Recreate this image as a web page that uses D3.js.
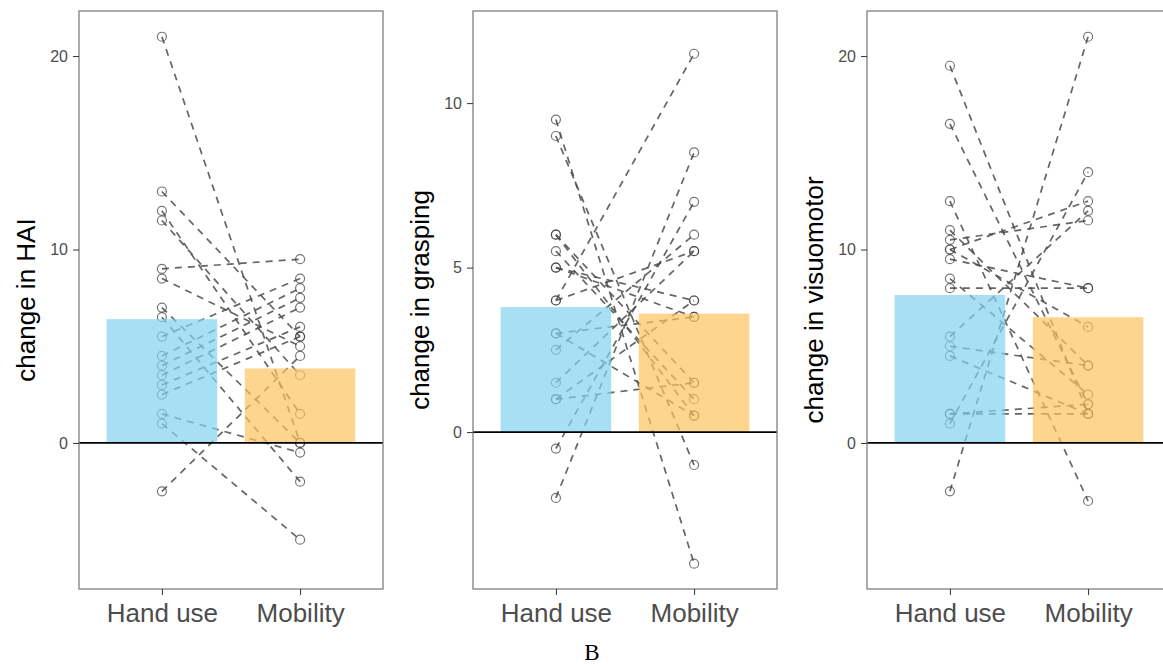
<!DOCTYPE html>
<html>
<head>
<meta charset="utf-8">
<script src="https://cdn.jsdelivr.net/npm/d3@7"></script>
<style>
  body { margin: 0; background: #fff; }
  svg { display: block; }
</style>
</head>
<body>
<script>
const width = 1163
const height = 664

// categories on the x axis
const categories = ['Hand use', 'Mobility']

// paired change scores, one entry per child (hand use -> mobility)
const haiHand = [21, 13, 12, 11.5, 9, 8.5, 7, 6.5, 5.5, 4.5, 4, 3.5, 3, 2.5, 1.5, 1, -2.5]
const haiMobility = [0, 5.5, 1.5, 3.5, 9.5, 5, 0, -2, 8.5, 8, 7.5, 7, 6, 5.5, -0.5, -5, 4.5]

const graspHand = [9.5, 9, 6, 6, 5.5, 5, 5, 4, 4, 3, 3, 2.5, 1.5, 1, 1, -0.5, -2]
const graspMobility = [-4, -1, 1.5, 0.5, 1, 4, 3.5, 11.5, 5.5, 3.5, 0.5, 6, 5.5, 1.5, 4, 7, 8.5]

const visuoHand = [19.5, 16.5, 12.5, 11, 10.5, 10, 10, 9.5, 8.5, 8, 5.5, 5, 4.5, 1.5, 1.5, 1, -2.5]
const visuoMobility = [1.5, 2, -3, 4, 11.5, 12.5, 6, 8, 2.5, 8, 12, 4, 1.5, 2, 1.5, 14, 21]

// bar heights (group means)
const haiMeans = [6.4, 3.85]
const graspMeans = [3.8, 3.6]
const visuoMeans = [7.65, 6.5]

// axis titles, ticks, y ranges
const titles = ['change in HAI', 'change in grasping', 'change in visuomotor']
const haiTicks = [0, 10, 20]
const graspTicks = [0, 5, 10]
const visuoTicks = [0, 10, 20]
const haiDomain = [-7.55, 22.33]
const graspDomain = [-4.77, 12.8]
const visuoDomain = [-7.55, 22.33]

const barColors = ['#81D1EE', '#FEC35F']

const panels = [
  { title: titles[0], hand: haiHand, mob: haiMobility, means: haiMeans, ticks: haiTicks, domain: haiDomain },
  { title: titles[1], hand: graspHand, mob: graspMobility, means: graspMeans, ticks: graspTicks, domain: graspDomain },
  { title: titles[2], hand: visuoHand, mob: visuoMobility, means: visuoMeans, ticks: visuoTicks, domain: visuoDomain }
]

const svg = d3.select('body')
  .append('svg')
  .attr('width', width)
  .attr('height', height)

const panelLeft = [79, 473, 867]
const panelW = 304
const plotTop = 11
const plotBottom = 589

panels.forEach((p, i) => {
  const g = svg.append('g').attr('transform', `translate(${panelLeft[i]},0)`)

  const x = d3.scalePoint().domain(categories).range([0, panelW]).padding(0.6)
  const step = x.step()
  const y = d3.scaleLinear().domain(p.domain).range([plotBottom, plotTop])

  const pairs = p.hand.map((h, k) => [h, p.mob[k]])

  // dashed lines joining each child's two scores
  g.append('g')
    .selectAll('line')
    .data(pairs)
    .join('line')
    .attr('x1', x(categories[0]))
    .attr('x2', x(categories[1]))
    .attr('y1', d => y(d[0]))
    .attr('y2', d => y(d[1]))
    .attr('stroke', '#4a4a4a')
    .attr('stroke-opacity', 0.85)
    .attr('stroke-width', 1.7)
    .attr('stroke-dasharray', '7,6')

  // open circles
  const pts = []
  pairs.forEach(d => {
    pts.push({ c: categories[0], v: d[0] })
    pts.push({ c: categories[1], v: d[1] })
  })
  g.append('g')
    .selectAll('circle')
    .data(pts)
    .join('circle')
    .attr('cx', d => x(d.c))
    .attr('cy', d => y(d.v))
    .attr('r', 4.5)
    .attr('fill', 'none')
    .attr('stroke', '#3a3a3a')
    .attr('stroke-opacity', 0.7)
    .attr('stroke-width', 1.2)

  // bars go over the lines, semi transparent
  g.append('g')
    .selectAll('rect')
    .data(p.means)
    .join('rect')
    .attr('x', (d, k) => x(categories[k]) - step * 0.4)
    .attr('width', step * 0.8)
    .attr('y', d => y(d))
    .attr('height', d => y(0) - y(d))
    .attr('fill', (d, k) => barColors[k])
    .attr('fill-opacity', 0.7)

  // zero line
  g.append('line')
    .attr('x1', 0)
    .attr('x2', panelW)
    .attr('y1', y(0))
    .attr('y2', y(0))
    .attr('stroke', '#000')
    .attr('stroke-width', 1.7)

  // panel border
  g.append('rect')
    .attr('x', 0)
    .attr('y', plotTop)
    .attr('width', panelW)
    .attr('height', plotBottom - plotTop)
    .attr('fill', 'none')
    .attr('stroke', '#7f7f7f')
    .attr('stroke-width', 1.3)

  // y axis
  const yAxis = g.append('g')
    .call(d3.axisLeft(y).tickValues(p.ticks).tickSize(6).tickPadding(5).tickFormat(d3.format('d')))
  yAxis.select('.domain').remove()
  yAxis.selectAll('line').attr('stroke', '#333')
  yAxis.selectAll('text')
    .attr('fill', '#4d4d4d')
    .style('font-family', 'Liberation Sans, Arial, sans-serif')
    .style('font-size', '16px')

  // x axis
  const xAxis = g.append('g')
    .attr('transform', `translate(0,${plotBottom})`)
    .call(d3.axisBottom(x).tickSize(6).tickPadding(6))
  xAxis.select('.domain').remove()
  xAxis.selectAll('line').attr('stroke', '#333')
  xAxis.selectAll('text')
    .attr('fill', '#4d4d4d')
    .attr('dy', null)
    .attr('y', 33)
    .style('font-family', 'Liberation Sans, Arial, sans-serif')
    .style('font-size', '26px')

  // y title
  g.append('text')
    .attr('transform', `translate(-44,${(plotTop + plotBottom) / 2}) rotate(-90)`)
    .attr('text-anchor', 'middle')
    .style('font-family', 'Liberation Sans, Arial, sans-serif')
    .style('font-size', '26px')
    .attr('fill', '#000')
    .text(p.title)
})

// caption
svg.append('text')
  .attr('x', 592)
  .attr('y', 660)
  .attr('text-anchor', 'middle')
  .style('font-family', 'Liberation Serif, Times New Roman, serif')
  .style('font-size', '23px')
  .text('B')
</script>
</body>
</html>
